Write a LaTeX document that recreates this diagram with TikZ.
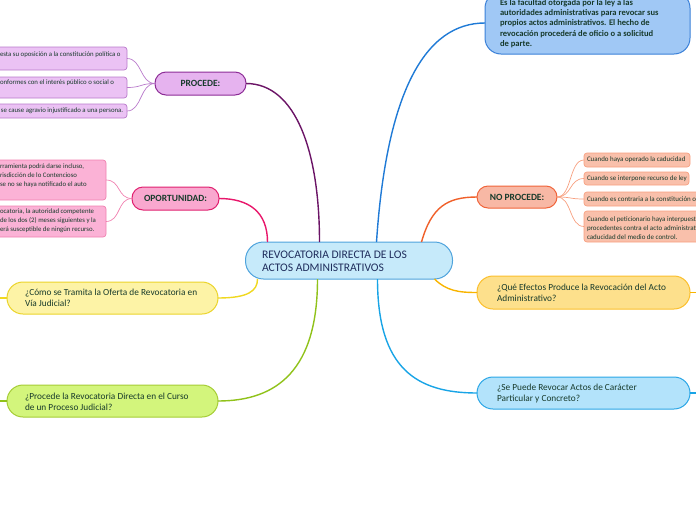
\documentclass[tikz,border=0pt]{standalone}
\usepackage{fontspec}
\setmainfont{Carlito}
\definecolor{txt}{HTML}{173A2B}
\definecolor{navy}{HTML}{1F2D5C}
\definecolor{cfill}{HTML}{C6EAFA}
\definecolor{cline}{HTML}{4EA3DC}
\definecolor{purl}{HTML}{6B1466}
\definecolor{purf}{HTML}{E6B3EF}
\definecolor{purb}{HTML}{8C2C96}
\definecolor{pchf}{HTML}{EBC2F4}
\definecolor{pchb}{HTML}{B97ACB}
\definecolor{pinl}{HTML}{E8176B}
\definecolor{pinf}{HTML}{F9A8CF}
\definecolor{pinb}{HTML}{E0206F}
\definecolor{pchf2}{HTML}{FBB2D6}
\definecolor{pchb2}{HTML}{F080B0}
\definecolor{bll}{HTML}{1F7AD6}
\definecolor{blf}{HTML}{A0C8F5}
\definecolor{blb}{HTML}{3A80D8}
\definecolor{orl}{HTML}{F0602A}
\definecolor{orf}{HTML}{F8B8A5}
\definecolor{orb}{HTML}{F0643A}
\definecolor{ochf}{HTML}{F9C0AB}
\definecolor{ochb}{HTML}{F7A080}
\definecolor{yel}{HTML}{F0D820}
\definecolor{yef}{HTML}{FDF3A6}
\definecolor{yeb}{HTML}{EBD42A}
\definecolor{grl}{HTML}{90C21A}
\definecolor{grf}{HTML}{D3F57C}
\definecolor{grb}{HTML}{A5CD35}
\definecolor{oyl}{HTML}{F8B400}
\definecolor{oyf}{HTML}{FDE08C}
\definecolor{oyb}{HTML}{FBBF2C}
\definecolor{skl}{HTML}{18A4E6}
\definecolor{skf}{HTML}{B3E3FB}
\definecolor{skb}{HTML}{2AA6E6}
\begin{document}
\begin{tikzpicture}[x=1pt,y=-1pt,
  every node/.style={inner sep=0pt, outer sep=0pt},
  mainline/.style={line width=1.4pt},
  subline/.style={line width=0.7pt},
  pill/.style={draw, line width=1pt, rounded corners=#1},
  leaf/.style={draw, line width=0.7pt, rounded corners=3pt},
  ctext/.style={font=\fontsize{11.6}{13}\selectfont, text=navy, align=left},
  qtext/.style={font=\fontsize{9.3}{11}\selectfont, text=txt, align=left},
  htext/.style={font=\bfseries\fontsize{9.5}{10}\selectfont, text=txt},
  ltext/.style={font=\fontsize{6.8}{9}\selectfont, text=txt, align=left},
  rtext/.style={font=\fontsize{6.95}{9}\selectfont, text=txt, align=left}
]
\useasboundingbox (0,0) rectangle (696,520);
\clip (0,0) rectangle (696,520);

% ---------- nodes ----------
\node[pill=18pt, fill=cfill, draw=cline, minimum width=207pt, minimum height=37pt] (c) at (349,260.5) {};
\node[ctext, anchor=west] (ct) at (262,261.5) {REVOCATORIA DIRECTA DE LOS\\ACTOS ADMINISTRATIVOS};

% PROCEDE
\node[pill=11pt, fill=purf, draw=purb, minimum width=91pt, minimum height=23pt, htext] (proc) at (200.5,83.5) {PROCEDE:};
\node[leaf, fill=pchf, draw=pchb, minimum width=200pt, minimum height=23pt, anchor=east] (p1) at (127,58.5) {};
\node[ltext, anchor=west] (p1t) at (0,55) {esta su oposición a la constitución política o};
\node[leaf, fill=pchf, draw=pchb, minimum width=200pt, minimum height=21pt, anchor=east] (p2) at (127,87.5) {};
\node[ltext, anchor=west] (p2t) at (0,83) {onformes con el interés público o social o};
\node[leaf, fill=pchf, draw=pchb, minimum width=200pt, minimum height=14pt, anchor=east] (p3) at (127,111) {};
\node[ltext, anchor=west] (p3t) at (1,111) {se cause agravio injustificado a una persona.};

% OPORTUNIDAD
\node[pill=11pt, fill=pinf, draw=pinb, minimum width=87pt, minimum height=23pt, htext] (opo) at (175.5,198.5) {OPORTUNIDAD:};
\node[leaf, fill=pchf2, draw=pchb2, minimum width=200pt, minimum height=40pt, anchor=east] (o1) at (106,180) {};
\node[ltext, anchor=west] (o1t) at (0,176) {rramienta podrá darse incluso,\\risdicción de lo Contencioso\\se no se haya notificado el auto};
\node[leaf, fill=pchf2, draw=pchb2, minimum width=200pt, minimum height=31pt, anchor=east] (o2) at (106,221.5) {};
\node[ltext, anchor=west] (o2t) at (0,221) {ocatoria, la autoridad competente\\de los dos (2) meses siguientes y la\\erá susceptible de ningún recurso.};

% left questions
\node[pill=16pt, fill=yef, draw=yeb, minimum width=211pt, minimum height=32pt] (q1) at (112.5,298) {};
\node[qtext, anchor=west] (q1t) at (25,297.5) {¿Cómo se Tramita la Oferta de Revocatoria en\\Vía Judicial?};
\node[pill=16pt, fill=grf, draw=grb, minimum width=211pt, minimum height=32pt] (q2) at (112.5,401) {};
\node[qtext, anchor=west] (q2t) at (25,401.5) {¿Procede la Revocatoria Directa en el Curso\\de un Proceso Judicial?};

% top right blue
\node[pill=16pt, fill=blf, draw=blb, minimum width=205pt, minimum height=62pt] (def) at (587.5,23) {};
\node[anchor=west, align=left, text=txt, font=\bfseries\fontsize{8.55}{10.3}\selectfont] (deft) at (500,23.6) {Es la facultad otorgada por la ley a las\\autoridades administrativas para revocar sus\\propios actos administrativos. El hecho de\\revocación procederá de oficio o a solicitud\\de parte.};

% NO PROCEDE
\node[pill=11pt, fill=orf, draw=orb, minimum width=80pt, minimum height=22pt, htext] (np) at (517,197) {NO PROCEDE:};
\node[leaf, fill=ochf, draw=ochb, minimum width=106pt, minimum height=14pt, anchor=west] (n1) at (584,160) {};
\node[rtext, anchor=west] (n1t) at (587,160) {Cuando haya operado la caducidad};
\node[leaf, fill=ochf, draw=ochb, minimum width=105pt, minimum height=13pt, anchor=west] (n2) at (584,178.5) {};
\node[rtext, anchor=west] (n2t) at (587,178.5) {Cuando se interpone recurso de ley};
\node[leaf, fill=ochf, draw=ochb, minimum width=150pt, minimum height=14pt, anchor=west] (n3) at (584,199) {};
\node[rtext, anchor=west] (n3t) at (587,199) {Cuando es contraria a la constitución o};
\node[leaf, fill=ochf, draw=ochb, minimum width=150pt, minimum height=31pt, anchor=west] (n4) at (584,226.5) {};
\node[rtext, anchor=west] (n4t) at (587,228) {Cuando el peticionario haya interpuesto\\procedentes contra el acto administrativo\\caducidad del medio de control.};

% right questions
\node[pill=16pt, fill=oyf, draw=oyb, minimum width=213pt, minimum height=33pt] (q3) at (583.5,292.5) {};
\node[qtext, anchor=west] (q3t) at (497,292.5) {¿Qué Efectos Produce la Revocación del Acto\\Administrativo?};
\node[pill=16pt, fill=skf, draw=skb, minimum width=213pt, minimum height=32pt] (q4) at (583.5,393) {};
\node[qtext, anchor=west] (q4t) at (497,393.5) {¿Se Puede Revocar Actos de Carácter\\Particular y Concreto?};

% ---------- connectors ----------
\draw[mainline, purl] ([xshift=74pt]c.north west) .. controls +(0,-90) and +(50,0) .. (proc.east);
\draw[mainline, pinl] ([xshift=22pt]c.north west) .. controls +(0,-30) and +(30,0) .. (opo.east);
\draw[mainline, bll] ([xshift=131pt]c.north west) .. controls +(10,-150) and +(-60,0) .. (def.west);
\draw[mainline, orl] ([xshift=176pt]c.north west) .. controls +(10,-35) and +(-30,0) .. (np.west);
\draw[mainline, yel] ([xshift=12pt]c.south west) .. controls +(0,12) and +(30,0) .. (q1.east);
\draw[mainline, grl] ([xshift=72pt]c.south west) .. controls +(0,90) and +(60,0) .. (q2.east);
\draw[mainline, skl] ([xshift=132pt]c.south west) .. controls +(0,90) and +(-60,0) .. (q4.west);
\draw[mainline, oyl] ([xshift=189pt]c.south west) .. controls +(12,12) and +(-18,0) .. (q3.west);
\draw[mainline, yel] (q1.west) -- +(-12,0);
\draw[mainline, grl] (q2.west) -- +(-12,0);
\draw[mainline, oyl] (q3.east) -- +(12,0);
\draw[mainline, skl] (q4.east) -- +(12,0);
\foreach \b in {p1,p2,p3}
  \draw[subline, pchb] (proc.west) .. controls +(-15,0) and +(15,0) .. (\b.east);
\foreach \b in {o1,o2}
  \draw[subline, pchb2] (opo.west) .. controls +(-15,0) and +(15,0) .. (\b.east);
\foreach \b in {n1,n2,n3,n4}
  \draw[subline, ochb] (np.east) .. controls +(15,0) and +(-15,0) .. (\b.west);
\end{tikzpicture}
\end{document}
